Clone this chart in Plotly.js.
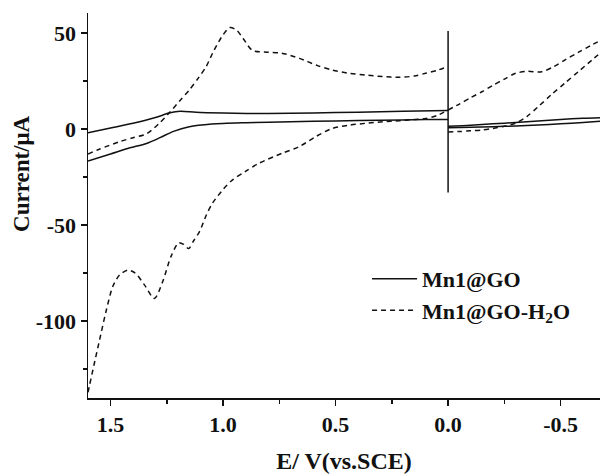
<!DOCTYPE html>
<html>
<head>
<meta charset="utf-8">
<script src="https://cdn.plot.ly/plotly-3.0.1.min.js"></script>
<style>html,body{margin:0;padding:0;background:#fff;}#chart{width:600px;height:474px;}</style>
</head>
<body>
<div id="chart"></div>
<script>
// ---- Data ----
const seriesNames = ["Mn1@GO", "Mn1@GO-H<sub>2</sub>O"];

// Mn1@GO (solid)
const goUpperLeftE = [1.60, 1.50, 1.40, 1.30, 1.24, 1.19, 1.12, 1.00, 0.80, 0.60, 0.40, 0.20, 0.00];
const goUpperLeftI = [-2.0, 0.5, 3.0, 6.0, 8.3, 9.3, 8.7, 8.3, 8.1, 8.4, 8.8, 9.3, 9.7];
const goLowerLeftE = [1.60, 1.50, 1.42, 1.34, 1.28, 1.22, 1.15, 1.05, 0.90, 0.70, 0.50, 0.30, 0.10, 0.00];
const goLowerLeftI = [-16.6, -13.0, -10.0, -7.5, -4.5, -1.2, 1.2, 2.6, 3.3, 3.8, 4.2, 4.6, 4.9, 5.0];
const goJumpE = [0.00, 0.00];
const goJumpI = [51.0, -33.0];
const goLowerRightE = [0.00, -0.10, -0.20, -0.30, -0.40, -0.50, -0.60, -0.675];
const goLowerRightI = [0.7, 0.9, 1.2, 1.6, 2.1, 2.7, 3.4, 4.0];
const goUpperRightE = [0.00, -0.10, -0.20, -0.30, -0.40, -0.50, -0.60, -0.675];
const goUpperRightI = [1.5, 2.0, 2.7, 3.4, 4.2, 5.0, 5.6, 5.9];

// Mn1@GO-H2O (dashed)
const h2oUpperLeftE = [1.60, 1.55, 1.46, 1.40, 1.34, 1.283, 1.24, 1.19, 1.15, 1.11, 1.075, 1.04, 1.00, 0.97, 0.94, 0.91, 0.87, 0.80, 0.74, 0.66, 0.58, 0.515, 0.44, 0.365, 0.29, 0.218, 0.15, 0.10, 0.05, 0.00];
const h2oUpperLeftI = [-13.0, -10.5, -6.6, -4.5, -2.5, 3.0, 8.3, 15.0, 20.3, 26.5, 32.5, 41.0, 49.0, 52.8, 51.5, 47.0, 41.0, 40.0, 39.5, 36.8, 33.0, 30.7, 29.0, 28.1, 27.3, 26.9, 27.6, 29.0, 30.5, 32.5];
const h2oLowerLeftE = [1.60, 1.593, 1.57, 1.549, 1.52, 1.49, 1.46, 1.423, 1.39, 1.35, 1.305, 1.27, 1.23, 1.197, 1.175, 1.153, 1.13, 1.105, 1.075, 1.047, 1.00, 0.959, 0.90, 0.84, 0.737, 0.662, 0.589, 0.515, 0.44, 0.365, 0.29, 0.218, 0.15, 0.10, 0.05, 0.00];
const h2oLowerLeftI = [-137.0, -133.3, -121.0, -110.0, -95.0, -82.0, -76.0, -73.4, -75.0, -81.0, -88.2, -80.0, -66.0, -59.2, -60.0, -62.2, -58.0, -53.5, -45.0, -38.6, -31.5, -26.6, -22.0, -17.8, -12.6, -9.2, -4.0, 0.3, 2.0, 3.0, 3.8, 4.3, 5.0, 5.5, 7.0, 9.9];
const h2oUpperRightE = [0.00, -0.05, -0.10, -0.15, -0.20, -0.25, -0.30, -0.35, -0.416, -0.47, -0.52, -0.58, -0.638, -0.675];
const h2oUpperRightI = [9.9, 13.0, 16.3, 19.4, 22.8, 26.0, 29.0, 30.0, 29.8, 32.5, 36.0, 40.0, 43.7, 46.0];
const h2oLowerRightE = [0.00, -0.05, -0.10, -0.15, -0.20, -0.25, -0.30, -0.35, -0.40, -0.46, -0.52, -0.58, -0.64, -0.675];
const h2oLowerRightI = [-1.5, -1.3, -0.9, -0.5, 0.3, 1.5, 3.1, 6.5, 11.6, 18.0, 24.0, 30.0, 36.0, 39.5];

const xTickVals = [1.5, 1.0, 0.5, 0.0, -0.5];
const xTickText = ["1.5", "1.0", "0.5", "0.0", "-0.5"];
const yTickVals = [50, 0, -50, -100];
const yTickText = ["50", "0", "-50", "-100"];

// join segments with null gaps
function joinSegs(segs) {
  const out = [];
  segs.forEach((s, i) => { if (i > 0) out.push(null); out.push(...s); });
  return out;
}

const ink = "#111111";
const fontFam = "Liberation Serif, Times New Roman, serif";

const traces = [
  {
    name: seriesNames[0],
    x: joinSegs([goUpperLeftE, goLowerLeftE, goJumpE, goLowerRightE, goUpperRightE]),
    y: joinSegs([goUpperLeftI, goLowerLeftI, goJumpI, goLowerRightI, goUpperRightI]),
    mode: "lines", connectgaps: false,
    line: {color: ink, width: 1.5, shape: "spline", smoothing: 0.8}
  },
  {
    name: seriesNames[1],
    x: joinSegs([h2oUpperLeftE, h2oLowerLeftE, h2oUpperRightE, h2oLowerRightE]),
    y: joinSegs([h2oUpperLeftI, h2oLowerLeftI, h2oUpperRightI, h2oLowerRightI]),
    mode: "lines", connectgaps: false,
    line: {color: ink, width: 1.5, dash: "5px,4px", shape: "spline", smoothing: 0.8}
  }
];

const layout = {
  width: 600, height: 474,
  margin: {l: 88, r: 0, t: 13, b: 76},
  paper_bgcolor: "#fff", plot_bgcolor: "#fff",
  showlegend: true,
  legend: {
    x: 0.545, y: 0.364, xanchor: "left", yanchor: "top",
    bgcolor: "rgba(0,0,0,0)", borderwidth: 0,
    itemwidth: 45,
    font: {family: fontFam, size: 22, color: ink, weight: "bold"},
    tracegroupgap: 0
  },
  xaxis: {
    range: [1.6, -0.675], autorange: false,
    showline: true, linecolor: ink, linewidth: 1.5, mirror: false,
    zeroline: false, showgrid: false,
    ticks: "outside", ticklen: 6, tickwidth: 1.5, tickcolor: ink,
    tickvals: xTickVals, ticktext: xTickText,
    minor: {dtick: 0.25, tick0: 0, ticks: "outside", ticklen: 4, tickwidth: 1.5, tickcolor: ink},
    tickfont: {family: fontFam, size: 22, color: ink, weight: "bold"},
    title: {text: "E/ V(vs.SCE)", standoff: 16, font: {family: fontFam, size: 24, color: ink, weight: "bold"}}
  },
  yaxis: {
    range: [-140, 60.4], autorange: false,
    showline: true, linecolor: ink, linewidth: 1.5, mirror: false,
    zeroline: false, showgrid: false,
    ticks: "outside", ticklen: 6, tickwidth: 1.5, tickcolor: ink,
    tickvals: yTickVals, ticktext: yTickText,
    minor: {dtick: 25, tick0: 0, ticks: "outside", ticklen: 4, tickwidth: 1.5, tickcolor: ink},
    tickfont: {family: fontFam, size: 22, color: ink, weight: "bold"}
  },
  annotations: [{
    text: "Current/μA", textangle: -90,
    xref: "paper", yref: "paper",
    x: -0.129, y: 0.582, xanchor: "center", yanchor: "middle",
    showarrow: false,
    font: {family: fontFam, size: 23, color: ink, weight: "bold"}
  }]
};

Plotly.newPlot("chart", traces, layout, {staticPlot: true, displayModeBar: false});
</script>
</body>
</html>
